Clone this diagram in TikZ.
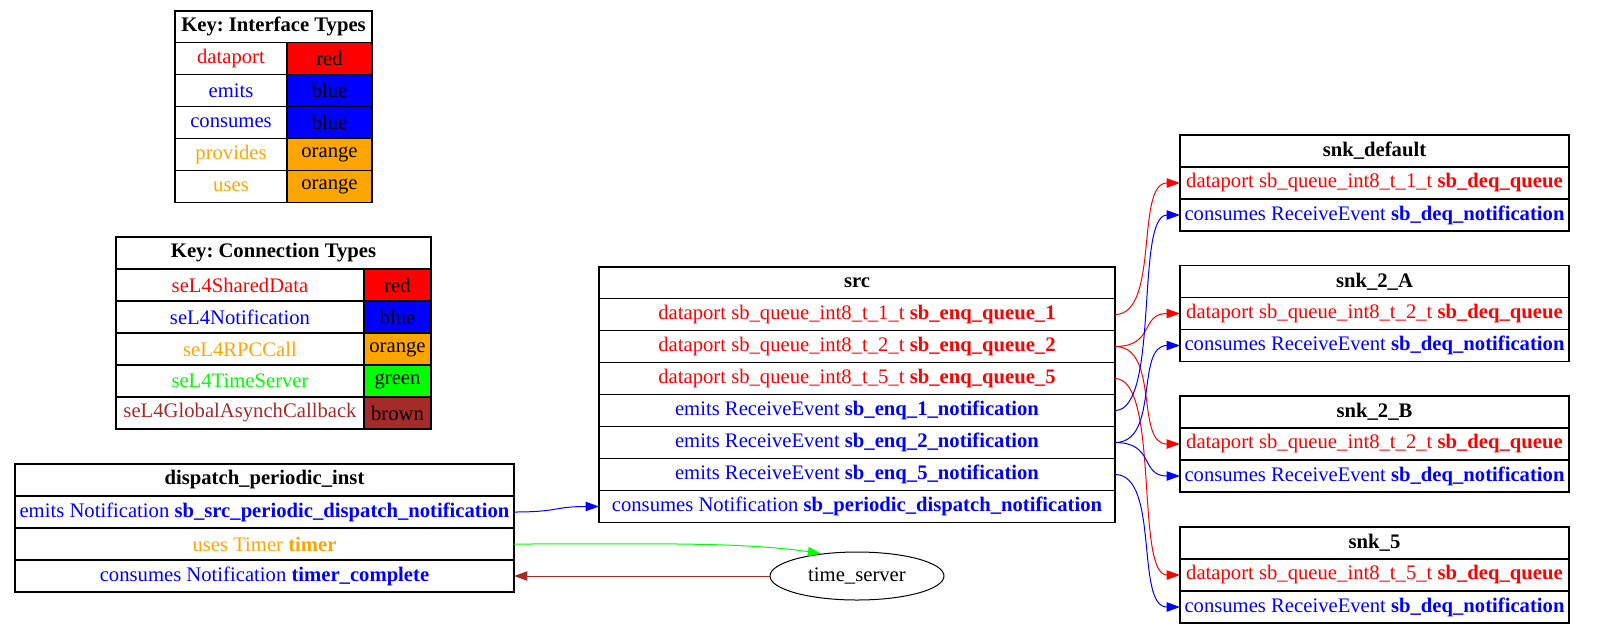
\documentclass[tikz,border=0pt]{standalone}
\usepackage{fontspec}
\setmainfont{Liberation Serif}
\usetikzlibrary{arrows.meta,shapes.geometric}

\definecolor{gvred}{HTML}{FF0000}
\definecolor{gvblue}{HTML}{0000FF}
\definecolor{gvorange}{HTML}{FFA500}
\definecolor{gvgreen}{HTML}{00FF00}
\definecolor{gvbrown}{HTML}{A52A2A}

\tikzset{
  cell/.style={draw=black, line width=0.8pt, inner sep=0pt, outer sep=0pt,
    font=\fontsize{15.5}{17}\selectfont},
  link/.style={line width=0.75pt, -{Triangle[length=10pt,width=7pt]}},
}

% one table cell: name, x1, y1, x2, y2 (pixel units), style, text
\newcommand\gvcell[7]{%
  \node[cell,#6,minimum width={(#4-#2)*0.75pt},minimum height={(#5-#3)*0.75pt}]
    (#1) at ({(#2+#4)/2},{(#3+#5)/2}) {#7};}

\frenchspacing
\begin{document}
\begin{tikzpicture}[x=0.75pt,y=-0.75pt]
\useasboundingbox (0,0) rectangle (1601,633);

% interface type key
\gvcell{ikhead}{175}{11}{372}{42.5}{}{\bfseries Key: Interface Types}
\gvcell{ikdpa}{175}{42.5}{287}{74.5}{text=gvred}{dataport}
\gvcell{ikdpb}{287}{42.5}{372}{74.5}{fill=gvred}{red}
\gvcell{ikema}{175}{74.5}{287}{106.5}{text=gvblue}{emits}
\gvcell{ikemb}{287}{74.5}{372}{106.5}{fill=gvblue}{blue}
\gvcell{ikcoa}{175}{106.5}{287}{138.5}{text=gvblue}{consumes}
\gvcell{ikcob}{287}{106.5}{372}{138.5}{fill=gvblue}{blue}
\gvcell{ikpra}{175}{138.5}{287}{170.5}{text=gvorange}{provides}
\gvcell{ikprb}{287}{138.5}{372}{170.5}{fill=gvorange}{orange}
\gvcell{ikusa}{175}{170.5}{287}{202.5}{text=gvorange}{uses}
\gvcell{ikusb}{287}{170.5}{372}{202.5}{fill=gvorange}{orange}

% connection type key
\gvcell{ckhead}{116}{237}{431}{269}{}{\bfseries Key: Connection Types}
\gvcell{cksda}{116}{269}{364}{301}{text=gvred}{seL4SharedData}
\gvcell{cksdb}{364}{269}{431}{301}{fill=gvred}{red}
\gvcell{ckntа}{116}{301}{364}{333}{text=gvblue}{seL4Notification}
\gvcell{ckntb}{364}{301}{431}{333}{fill=gvblue}{blue}
\gvcell{ckrpa}{116}{333}{364}{365}{text=gvorange}{seL4RPCCall}
\gvcell{ckrpb}{364}{333}{431}{365}{fill=gvorange}{orange}
\gvcell{cktsa}{116}{365}{364}{397}{text=gvgreen}{seL4TimeServer}
\gvcell{cktsb}{364}{365}{431}{397}{fill=gvgreen}{green}
\gvcell{ckgaa}{116}{397}{364}{429}{text=gvbrown}{seL4GlobalAsynchCallback}
\gvcell{ckgab}{364}{397}{431}{429}{fill=gvbrown}{brown}

% dispatch_periodic_inst
\gvcell{dphead}{15}{464}{514}{496}{}{\bfseries dispatch\_periodic\_inst}
\gvcell{dpemits}{15}{496}{514}{528}{text=gvblue}{emits Notification \textbf{sb\_src\_periodic\_dispatch\_notification}}
\gvcell{dpuses}{15}{528}{514}{560}{text=gvorange}{uses Timer \textbf{timer}}
\gvcell{dpcons}{15}{560}{514}{592}{text=gvblue}{consumes Notification \textbf{timer\_complete}}

% src
\gvcell{srchead}{599}{267}{1115}{298.5}{}{\bfseries src}
\gvcell{srcqa}{599}{298.5}{1115}{330.5}{text=gvred}{dataport sb\_queue\_int8\_t\_1\_t \textbf{sb\_enq\_queue\_1}}
\gvcell{srcqb}{599}{330.5}{1115}{362.5}{text=gvred}{dataport sb\_queue\_int8\_t\_2\_t \textbf{sb\_enq\_queue\_2}}
\gvcell{srcqc}{599}{362.5}{1115}{394.5}{text=gvred}{dataport sb\_queue\_int8\_t\_5\_t \textbf{sb\_enq\_queue\_5}}
\gvcell{srcna}{599}{394.5}{1115}{426.5}{text=gvblue}{emits ReceiveEvent \textbf{sb\_enq\_1\_notification}}
\gvcell{srcnb}{599}{426.5}{1115}{458.5}{text=gvblue}{emits ReceiveEvent \textbf{sb\_enq\_2\_notification}}
\gvcell{srcnc}{599}{458.5}{1115}{490.5}{text=gvblue}{emits ReceiveEvent \textbf{sb\_enq\_5\_notification}}
\gvcell{srccons}{599}{490.5}{1115}{522.5}{text=gvblue}{consumes Notification \textbf{sb\_periodic\_dispatch\_notification}}

% sinks
\gvcell{sdhead}{1180}{135}{1569}{167}{}{\bfseries snk\_default}
\gvcell{sdq}{1180}{167}{1569}{199}{text=gvred}{dataport sb\_queue\_int8\_t\_1\_t \textbf{sb\_deq\_queue}}
\gvcell{sdn}{1180}{199}{1569}{231}{text=gvblue}{consumes ReceiveEvent \textbf{sb\_deq\_notification}}

\gvcell{sahead}{1180}{265.5}{1569}{297.5}{}{\bfseries snk\_2\_A}
\gvcell{saq}{1180}{297.5}{1569}{329.5}{text=gvred}{dataport sb\_queue\_int8\_t\_2\_t \textbf{sb\_deq\_queue}}
\gvcell{san}{1180}{329.5}{1569}{361.5}{text=gvblue}{consumes ReceiveEvent \textbf{sb\_deq\_notification}}

\gvcell{sbhead}{1180}{396}{1569}{428}{}{\bfseries snk\_2\_B}
\gvcell{sbq}{1180}{428}{1569}{460}{text=gvred}{dataport sb\_queue\_int8\_t\_2\_t \textbf{sb\_deq\_queue}}
\gvcell{sbn}{1180}{460}{1569}{492}{text=gvblue}{consumes ReceiveEvent \textbf{sb\_deq\_notification}}

\gvcell{sfhead}{1180}{527}{1569}{559}{}{\bfseries snk\_5}
\gvcell{sfq}{1180}{559}{1569}{591}{text=gvred}{dataport sb\_queue\_int8\_t\_5\_t \textbf{sb\_deq\_queue}}
\gvcell{sfn}{1180}{591}{1569}{623}{text=gvblue}{consumes ReceiveEvent \textbf{sb\_deq\_notification}}

% time server
\node[ellipse, draw=black, line width=0.75pt, inner sep=0pt,
  minimum width=130.5pt, minimum height=36pt,
  font=\fontsize{15.5}{17}\selectfont] (ts) at (857,576) {time\_server};

% connections
\draw[link,gvblue] (dpemits.east) .. controls +(45,0) and +(-45,0) .. (srccons.west);
\draw[link,gvgreen] (dpuses.east) .. controls +(130,0) and +(-80,-12) .. (ts.148);
\draw[link,gvbrown] (ts.west) -- (dpcons.east);

\draw[link,gvred] (srcqa.east) .. controls +(45,0) and +(-45,0) .. (sdq.west);
\draw[link,gvred] (srcqb.east) .. controls +(40,0) and +(-40,0) .. (saq.west);
\draw[link,gvred] (srcqb.east) .. controls +(45,0) and +(-45,0) .. (sbq.west);
\draw[link,gvred] (srcqc.east) .. controls +(45,0) and +(-45,0) .. (sfq.west);
\draw[link,gvblue] (srcna.east) .. controls +(45,0) and +(-45,0) .. (sdn.west);
\draw[link,gvblue] (srcnb.east) .. controls +(45,0) and +(-45,0) .. (san.west);
\draw[link,gvblue] (srcnb.east) .. controls +(40,0) and +(-40,0) .. (sbn.west);
\draw[link,gvblue] (srcnc.east) .. controls +(45,0) and +(-45,0) .. (sfn.west);
\end{tikzpicture}
\end{document}
